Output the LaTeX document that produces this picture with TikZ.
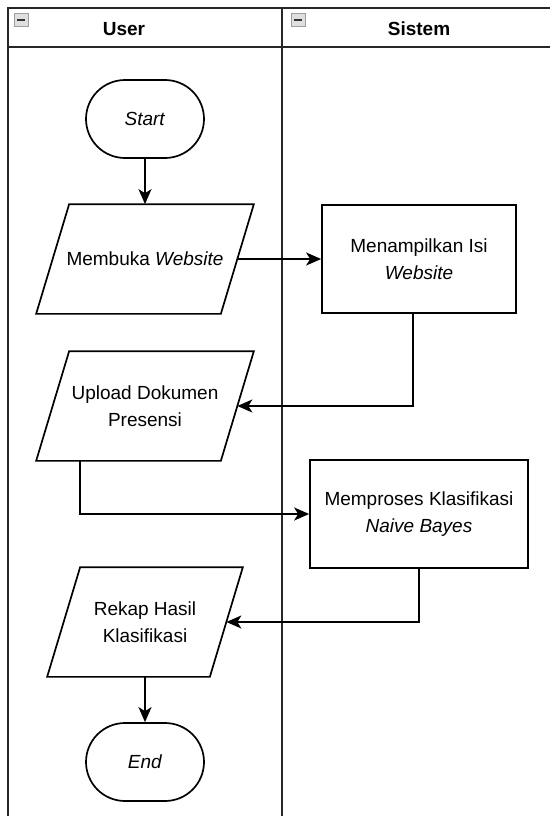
\documentclass[tikz,border=0pt]{standalone}
\usepackage{fontspec}
\setmainfont{Liberation Sans}
\usetikzlibrary{arrows.meta, positioning}
\tikzset{
  >={Stealth[length=15pt,width=13pt,inset=4pt]},
  % Corsie
  lane/.style={line width=2pt, black!85},
  lane title/.style={font=\fontsize{19}{23}\selectfont\bfseries},
  collapse/.style={draw=gray!75, fill=gray!25, minimum width=14pt, minimum height=13pt, inner sep=0pt},
  % Nodi del diagramma di flusso
  box/.style={draw, line width=1.7pt, align=center, font=\fontsize{19}{27}\selectfont, inner sep=0pt},
  terminal/.style={box, rectangle, rounded corners=39pt, minimum width=118pt, minimum height=78pt},
  io/.style={box, draw=none, rectangle, minimum height=108pt,
    append after command={\pgfextra{
      \draw[line width=1.7pt] ([xshift=16.5pt]\tikzlastnode.north west) -- ([xshift=16.5pt]\tikzlastnode.north east)
        -- ([xshift=-16.5pt]\tikzlastnode.south east) -- ([xshift=-16.5pt]\tikzlastnode.south west) -- cycle;}}},
  process/.style={box, rectangle, minimum height=108pt},
  % Connessioni
  connect arrow/.style={->, line width=1.7pt}
}
\begin{document}
\begin{tikzpicture}[x=1pt, y=-1pt]
\useasboundingbox (0,0) rectangle (550,816);

% Swimlane
\draw[lane] (550,8) -- (8,8) -- (8,816);
\draw[lane] (8,47) -- (550,47);
\draw[lane] (282,8) -- (282,816);
\node[lane title] (user) at (124,29) {User};
\node[lane title] (sistem) at (419,29) {Sistem};
\node[collapse] (icon user) at (21,20) {};
\node[collapse] (icon sistem) at (298,20) {};
\draw[line width=1.6pt, black!80] ([xshift=-4pt]icon user.center) -- ([xshift=4pt]icon user.center);
\draw[line width=1.6pt, black!80] ([xshift=-4pt]icon sistem.center) -- ([xshift=4pt]icon sistem.center);

% Nodi
\node[terminal] (start) at (145,119) {\textit{Start}};
\node[io, minimum width=183pt] (membuka) at (145,259) {Membuka \textit{Website}};
\node[process, minimum width=194pt] (isi) at (419,259) {Menampilkan Isi\\\textit{Website}};
\node[io, minimum width=183pt] (upload) at (145,406) {Upload Dokumen\\Presensi};
\node[process, minimum width=218pt] (proses) at (419,514) {Memproses Klasifikasi\\\textit{Naive Bayes}};
\node[io, minimum width=161pt] (rekap) at (145,622) {Rekap Hasil\\Klasifikasi};
\node[terminal] (end) at (145,762) {\textit{End}};

% Frecce
\draw[connect arrow] (start) -- (membuka);
\draw[connect arrow] (membuka.east) -- (isi.west);
\draw[connect arrow] ([xshift=-6pt]isi.south) |- (upload.east);
\draw[connect arrow] ([xshift=-65pt]upload.south) |- (proses.west);
\draw[connect arrow] (proses.south) |- (rekap.east);
\draw[connect arrow] (rekap) -- (end);

\end{tikzpicture}
\end{document}
